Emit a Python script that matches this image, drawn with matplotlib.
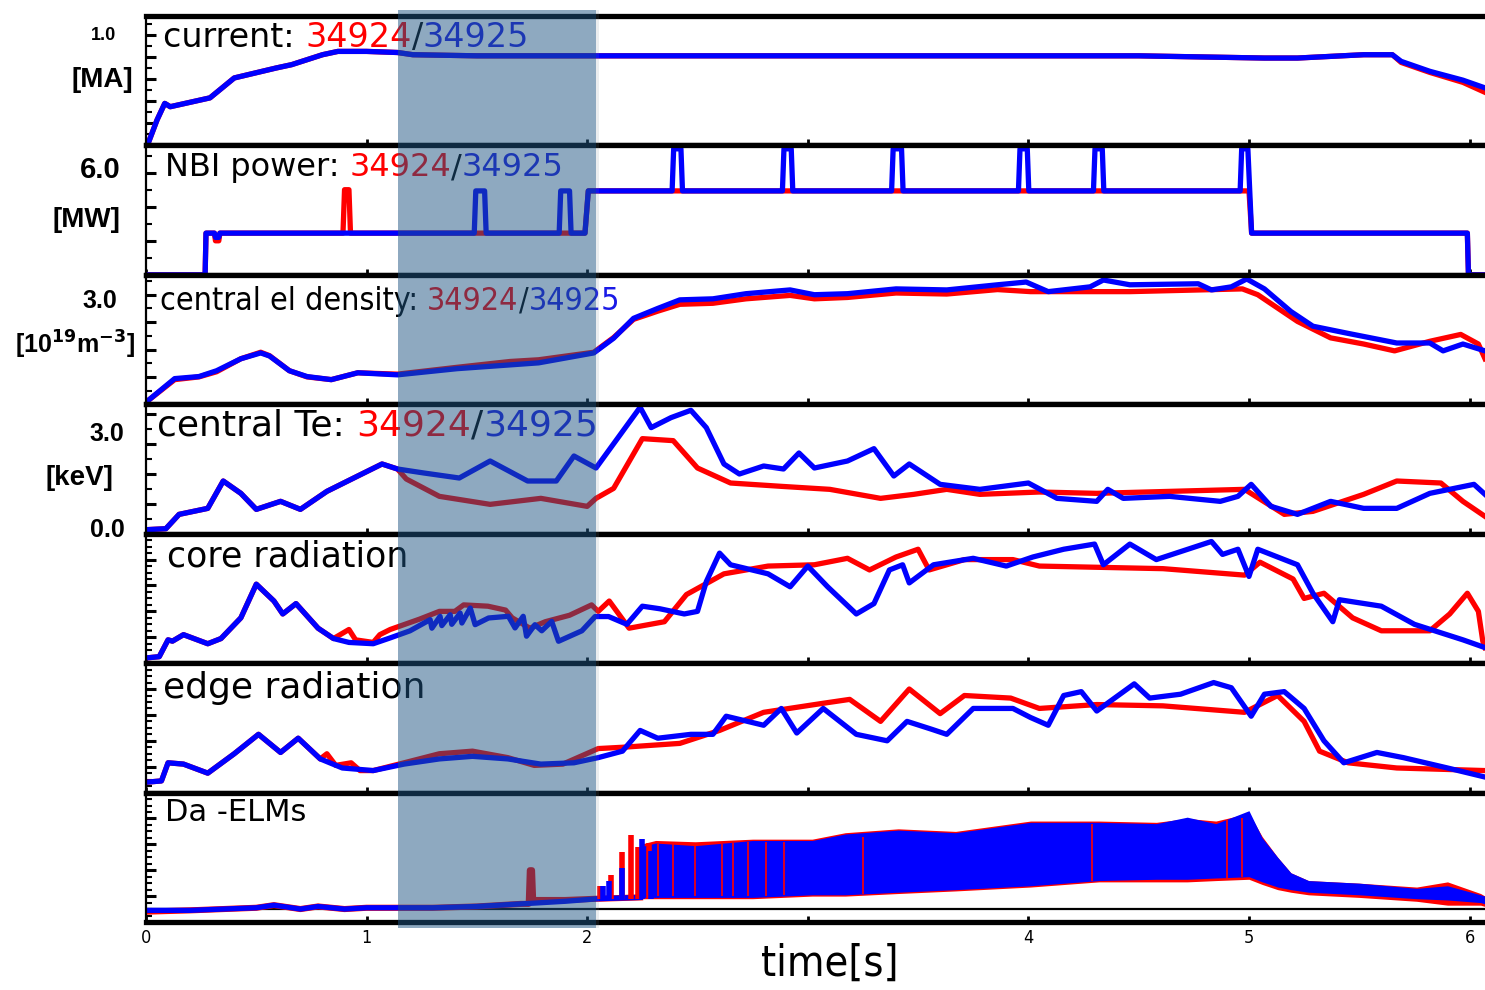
import numpy as np
import matplotlib
matplotlib.use("Agg")
import matplotlib.pyplot as plt
from matplotlib.ticker import MultipleLocator
import matplotlib.transforms as mtrans
from matplotlib.patches import Rectangle

# ---------------- data ----------------
XMAX = 6.07
xtick_vals = [0, 1, 2, 3, 4, 5, 6]
xtick_labels = ["0", "1", "2", "", "4", "5", "6"]

# plasma current [MA]
cur_t = [0, 0.01, 0.05, 0.085, 0.11, 0.20, 0.29, 0.40, 0.59, 0.66, 0.80, 0.87, 1.0, 1.14,
         1.21, 1.5, 2.0, 2.5, 3.0, 3.5, 4.0, 4.5, 5.07, 5.22, 5.52, 5.65, 5.69, 5.82, 5.97, 6.07]
cur_blue = [0, 0.02, 0.23, 0.38, 0.35, 0.39, 0.43, 0.61, 0.70, 0.73, 0.82, 0.85, 0.85, 0.84,
            0.82, 0.81, 0.81, 0.81, 0.81, 0.81, 0.81, 0.81, 0.79, 0.79, 0.82, 0.82, 0.76, 0.67, 0.59, 0.52]
cur_red = [0, 0.02, 0.23, 0.38, 0.35, 0.39, 0.43, 0.61, 0.70, 0.73, 0.82, 0.85, 0.85, 0.84,
           0.82, 0.81, 0.81, 0.81, 0.81, 0.81, 0.81, 0.81, 0.79, 0.79, 0.82, 0.82, 0.75, 0.66, 0.57, 0.48]

# NBI power [MW] as segments (start, end, level)
nbi_red_start = [0.00, 0.272, 0.315, 0.335, 0.900, 0.927, 2.005, 5.012, 5.995]
nbi_red_end = [0.268, 0.310, 0.330, 0.893, 0.920, 1.990, 5.000, 5.990, 6.07]
nbi_red_level = [0, 2.45, 2.0, 2.45, 5.0, 2.45, 4.93, 2.45, 0]
nbi_blue_start = [0.00, 0.272, 0.315, 0.335, 1.495, 1.542, 1.880, 1.927, 2.005, 2.392, 2.432,
                  2.892, 2.932, 3.387, 3.432, 3.962, 4.002, 4.302, 4.342, 4.967, 5.012, 5.995]
nbi_blue_end = [0.268, 0.310, 0.330, 1.488, 1.535, 1.873, 1.920, 1.990, 2.385, 2.425, 2.885,
                2.925, 3.380, 3.425, 3.955, 3.995, 4.295, 4.335, 4.960, 4.995, 5.990, 6.07]
nbi_blue_level = [0, 2.45, 2.2, 2.45, 4.93, 2.45, 4.93, 2.45, 4.93, 7.4, 4.93,
                  7.4, 4.93, 7.4, 4.93, 7.4, 4.93, 7.4, 4.93, 7.4, 2.45, 0]

# central electron density [1e19 m^-3]
den_t_blue = [0, 0.13, 0.24, 0.32, 0.43, 0.52, 0.56, 0.65, 0.73, 0.84, 0.96, 1.14, 1.41, 1.78,
              2.03, 2.12, 2.21, 2.32, 2.42, 2.57, 2.72, 2.92, 3.03, 3.18, 3.40, 3.63, 3.86, 3.99,
              4.09, 4.28, 4.34, 4.46, 4.77, 4.83, 4.92, 4.99, 5.07, 5.19, 5.29, 5.45, 5.67, 5.82,
              5.88, 5.97, 6.07]
den_blue = [0.06, 0.75, 0.81, 0.98, 1.33, 1.50, 1.41, 0.98, 0.81, 0.72, 0.92, 0.86, 1.04, 1.21,
            1.50, 1.93, 2.51, 2.80, 3.05, 3.08, 3.23, 3.34, 3.20, 3.23, 3.37, 3.34, 3.49, 3.57,
            3.29, 3.43, 3.63, 3.49, 3.52, 3.34, 3.43, 3.66, 3.37, 2.71, 2.28, 2.07, 1.79, 1.79,
            1.56, 1.76, 1.56]
den_t_red = [0, 0.13, 0.24, 0.32, 0.43, 0.52, 0.56, 0.65, 0.73, 0.84, 0.96, 1.14, 1.41, 1.65,
             1.78, 2.03, 2.12, 2.21, 2.32, 2.42, 2.57, 2.72, 2.92, 3.03, 3.18, 3.40, 3.63, 3.86,
             4.01, 4.46, 4.97, 5.04, 5.22, 5.37, 5.52, 5.66, 5.82, 5.96, 6.04, 6.07]
den_red = [0.06, 0.72, 0.80, 0.95, 1.33, 1.52, 1.42, 0.98, 0.80, 0.72, 0.92, 0.88, 1.08, 1.25,
           1.30, 1.52, 1.95, 2.48, 2.72, 2.92, 2.95, 3.08, 3.18, 3.08, 3.12, 3.25, 3.22, 3.35,
           3.29, 3.29, 3.37, 3.20, 2.42, 1.94, 1.76, 1.56, 1.84, 2.04, 1.76, 1.33]

# central electron temperature [keV]
te_t_blue = [0, 0.09, 0.15, 0.28, 0.35, 0.43, 0.50, 0.61, 0.70, 0.82, 0.96, 1.07, 1.14,
             1.26, 1.42, 1.56, 1.73, 1.86, 1.94, 2.04, 2.24, 2.29, 2.38, 2.47, 2.54, 2.62, 2.69,
             2.80, 2.89, 2.96, 3.03, 3.18, 3.30, 3.39, 3.46, 3.60, 3.78, 4.00, 4.13, 4.31, 4.36,
             4.43, 4.64, 4.87, 4.95, 5.01, 5.10, 5.22, 5.37, 5.52, 5.67, 5.82, 6.02, 6.07]
te_blue = [0.12, 0.15, 0.58, 0.76, 1.58, 1.21, 0.73, 0.97, 0.73, 1.27, 1.73, 2.09, 1.94,
           1.82, 1.67, 2.18, 1.58, 1.58, 2.33, 1.97, 3.79, 3.18, 3.48, 3.70, 3.18, 2.09, 1.79,
           2.03, 1.94, 2.42, 1.97, 2.18, 2.55, 1.73, 2.09, 1.48, 1.33, 1.52, 1.06, 0.97, 1.33,
           1.06, 1.12, 0.97, 1.12, 1.48, 0.82, 0.58, 0.97, 0.76, 0.76, 1.21, 1.48, 1.18]
te_t_red = [0, 0.09, 0.15, 0.28, 0.35, 0.43, 0.50, 0.61, 0.70, 0.82, 0.96, 1.07, 1.14,
            1.18, 1.33, 1.56, 1.79, 2.00, 2.04, 2.12, 2.25, 2.39, 2.50, 2.65, 2.88, 3.10, 3.33,
            3.48, 3.63, 3.78, 4.05, 4.31, 4.98, 5.16, 5.29, 5.52, 5.67, 5.87, 5.97, 6.07]
te_red = [0.12, 0.15, 0.58, 0.76, 1.58, 1.21, 0.73, 0.97, 0.73, 1.27, 1.73, 2.09, 1.94,
          1.64, 1.12, 0.88, 1.06, 0.82, 1.06, 1.36, 2.85, 2.79, 1.97, 1.52, 1.42, 1.33, 1.06,
          1.18, 1.33, 1.18, 1.25, 1.21, 1.33, 0.58, 0.67, 1.18, 1.58, 1.52, 0.97, 0.52]

# core radiation [a.u.]
core_t_red = [0.0, 0.06, 0.10, 0.12, 0.17, 0.28, 0.34, 0.43, 0.50, 0.58, 0.62, 0.68, 0.78, 0.85,
              0.92, 0.95, 1.03, 1.06, 1.107, 1.24, 1.33, 1.40, 1.44, 1.55, 1.63, 1.66, 1.74, 1.81,
              1.92, 2.02, 2.05, 2.10, 2.19, 2.35, 2.45, 2.62, 2.82, 3.03, 3.18, 3.28, 3.40, 3.50,
              3.55, 3.71, 3.93, 4.05, 4.61, 4.98, 5.05, 5.20, 5.25, 5.34, 5.47, 5.60, 5.82, 5.91,
              5.99, 6.04, 6.06, 6.07]
core_red = [0.04, 0.05, 0.18, 0.17, 0.22, 0.15, 0.19, 0.35, 0.61, 0.48, 0.38, 0.46, 0.27, 0.19,
            0.26, 0.18, 0.16, 0.22, 0.26, 0.34, 0.40, 0.40, 0.45, 0.44, 0.41, 0.35, 0.27, 0.32,
            0.37, 0.45, 0.40, 0.48, 0.27, 0.32, 0.53, 0.69, 0.75, 0.76, 0.81, 0.72, 0.82, 0.88,
            0.72, 0.80, 0.80, 0.75, 0.73, 0.68, 0.78, 0.65, 0.50, 0.54, 0.35, 0.25, 0.25, 0.38,
            0.54, 0.40, 0.17, 0.12]
core_t_blue = [0.0, 0.06, 0.10, 0.12, 0.17, 0.28, 0.34, 0.43, 0.50, 0.58, 0.62, 0.68, 0.78, 0.85,
               0.92, 1.03, 1.107, 1.197, 1.288, 1.296, 1.333, 1.341, 1.379, 1.386, 1.424, 1.432,
               1.470, 1.492, 1.553, 1.643, 1.673, 1.710, 1.725, 1.763, 1.794, 1.839, 1.870, 1.976,
               2.036, 2.097, 2.18, 2.25, 2.33, 2.44, 2.50, 2.54, 2.60, 2.65, 2.82, 2.92, 3.00,
               3.09, 3.22, 3.30, 3.37, 3.43, 3.46, 3.57, 3.75, 3.90, 4.02, 4.16, 4.30, 4.34, 4.46,
               4.58, 4.83, 4.88, 4.95, 5.00, 5.04, 5.22, 5.29, 5.38, 5.41, 5.60, 5.75, 5.97, 6.07]
core_blue = [0.04, 0.05, 0.18, 0.17, 0.22, 0.15, 0.19, 0.35, 0.61, 0.48, 0.38, 0.46, 0.27, 0.19,
             0.16, 0.15, 0.195, 0.25, 0.336, 0.27, 0.362, 0.29, 0.374, 0.30, 0.387, 0.31,
             0.426, 0.297, 0.349, 0.362, 0.272, 0.362, 0.208, 0.297, 0.25, 0.323, 0.169, 0.25,
             0.36, 0.36, 0.30, 0.44, 0.42, 0.38, 0.40, 0.63, 0.85, 0.76, 0.69, 0.59, 0.75,
             0.59, 0.38, 0.46, 0.72, 0.76, 0.62, 0.76, 0.81, 0.75, 0.82, 0.88, 0.92, 0.76, 0.92,
             0.80, 0.94, 0.84, 0.88, 0.67, 0.88, 0.76, 0.54, 0.32, 0.49, 0.44, 0.30, 0.18, 0.12]

# edge radiation [a.u.]
edge_t_red = [0, 0.07, 0.10, 0.17, 0.28, 0.40, 0.51, 0.61, 0.69, 0.79,
              0.82, 0.86, 0.93, 0.97, 1.03, 1.17, 1.33, 1.48, 1.64, 1.76, 1.89, 2.05, 2.16, 2.42,
              2.60, 2.80, 3.07, 3.19, 3.33, 3.46, 3.60, 3.71, 3.92, 4.05, 4.31, 4.61, 4.98, 5.13,
              5.25, 5.32, 5.45, 5.67, 6.07]
edge_red = [0.08, 0.09, 0.23, 0.22, 0.15, 0.30, 0.45, 0.31, 0.42, 0.26,
            0.30, 0.21, 0.23, 0.17, 0.17, 0.23, 0.30, 0.32, 0.27, 0.21, 0.22, 0.34, 0.35, 0.38,
            0.48, 0.62, 0.69, 0.72, 0.55, 0.80, 0.61, 0.75, 0.73, 0.65, 0.68, 0.67, 0.62, 0.75,
            0.55, 0.32, 0.23, 0.19, 0.17]
edge_t_blue = [0, 0.07, 0.10, 0.17, 0.28, 0.40, 0.51, 0.61, 0.69, 0.79,
               0.89, 1.03, 1.17, 1.33, 1.48, 1.64, 1.79, 1.94, 2.05, 2.16, 2.24, 2.32, 2.47, 2.57,
               2.63, 2.80, 2.88, 2.95, 3.07, 3.22, 3.36, 3.45, 3.56, 3.63, 3.75, 3.93, 4.01, 4.09,
               4.16, 4.24, 4.31, 4.48, 4.55, 4.69, 4.84, 4.92, 5.01, 5.07, 5.16, 5.25, 5.34, 5.43,
               5.58, 5.70, 5.90, 6.07]
edge_blue = [0.08, 0.09, 0.23, 0.22, 0.15, 0.30, 0.45, 0.31, 0.42, 0.26,
             0.19, 0.17, 0.22, 0.26, 0.28, 0.26, 0.22, 0.23, 0.27, 0.32, 0.48, 0.42, 0.45, 0.45,
             0.59, 0.52, 0.65, 0.46, 0.65, 0.45, 0.40, 0.55, 0.49, 0.45, 0.65, 0.65, 0.58, 0.52,
             0.75, 0.78, 0.63, 0.84, 0.73, 0.76, 0.85, 0.81, 0.59, 0.76, 0.78, 0.65, 0.40, 0.23,
             0.31, 0.27, 0.19, 0.12]

# D-alpha / ELMs [a.u.]
da_pre_t_blue = [0, 0.2, 0.5, 0.58, 0.7, 0.78, 0.9, 1.0, 1.3, 1.5, 1.7, 1.9, 2.05, 2.24]
da_pre_blue = [0.09, 0.09, 0.11, 0.13, 0.10, 0.12, 0.10, 0.11, 0.11, 0.12, 0.14, 0.16, 0.18, 0.19]
da_pre_t_red = [0, 0.2, 0.5, 0.58, 0.7, 0.78, 0.9, 1.0, 1.3, 1.5, 1.7, 1.735, 1.74, 1.75,
                1.755, 1.9, 2.05, 2.24]
da_pre_red = [0.08, 0.09, 0.11, 0.13, 0.10, 0.12, 0.10, 0.11, 0.11, 0.12, 0.14, 0.14, 0.40, 0.40,
              0.17, 0.17, 0.18, 0.19]
elm_early_t_red = [2.06, 2.11, 2.16, 2.20, 2.23, 2.28]
elm_early_h_red = [0.28, 0.36, 0.54, 0.67, 0.58, 0.61]
elm_early_t_blue = [2.07, 2.10, 2.16, 2.25, 2.29]
elm_early_h_blue = [0.28, 0.32, 0.42, 0.64, 0.55]
elm_t = [2.24, 2.31, 2.49, 2.75, 3.02, 3.17, 3.41, 3.67, 4.01, 4.32, 4.58, 4.72, 4.85, 5.00,
         5.06, 5.13, 5.19, 5.27, 5.50, 5.76, 5.90, 6.05, 6.07]
elm_up_blue = [0.58, 0.61, 0.59, 0.63, 0.63, 0.68, 0.71, 0.69, 0.77, 0.77, 0.76, 0.81, 0.76, 0.86,
               0.65, 0.50, 0.38, 0.32, 0.30, 0.26, 0.28, 0.21, 0.20]
elm_lo_blue = [0.19, 0.19, 0.19, 0.19, 0.21, 0.21, 0.23, 0.25, 0.28, 0.32, 0.33, 0.33, 0.34, 0.35,
               0.31, 0.27, 0.25, 0.23, 0.21, 0.18, 0.17, 0.15, 0.14]
elm_up_red = [0.60, 0.63, 0.62, 0.64, 0.64, 0.69, 0.72, 0.70, 0.78, 0.78, 0.77, 0.80, 0.78, 0.84,
              0.66, 0.50, 0.38, 0.32, 0.30, 0.27, 0.31, 0.22, 0.20]
elm_lo_red = [0.18, 0.18, 0.18, 0.18, 0.20, 0.20, 0.22, 0.24, 0.27, 0.31, 0.31, 0.31, 0.32, 0.33,
              0.29, 0.25, 0.23, 0.21, 0.19, 0.16, 0.13, 0.13, 0.12]
elm_streak_t_red = [2.32, 2.39, 2.49, 2.61, 2.66, 2.73, 2.81, 2.89, 3.25, 4.29, 4.90, 4.97]
elm_streak_top_red = [0.60, 0.60, 0.59, 0.60, 0.61, 0.62, 0.62, 0.62, 0.66, 0.76, 0.79, 0.80]
elm_streak_bot_red = [0.20, 0.20, 0.20, 0.20, 0.20, 0.20, 0.20, 0.21, 0.22, 0.32, 0.34, 0.35]

# shaded time window [s]
shade_t0, shade_t1 = 1.143, 2.04

# ---------------- style ----------------
RED = "#ff0000"
BLUE = "#0000ff"
TBLUE = "#1a1ae6"
LW = 3.8
W, H = 1485, 990


def seg_series(starts, ends, levels):
    t, v = [], []
    for a, b, lev in zip(starts, ends, levels):
        t += [a, b]
        v += [lev, lev]
    return t, v


def colored_title(ax, x, y, parts, size, stretch="normal"):
    s, c = parts[0]
    t = ax.text(x, y, s, color=c, transform=ax.transAxes, fontsize=size,
                va="baseline", ha="left", fontstretch=stretch, zorder=6)
    for s, c in parts[1:]:
        t = ax.annotate(s, xy=(1, 0), xycoords=t, xytext=(0, 0), textcoords="offset points",
                        va="bottom", ha="left", color=c, fontsize=size,
                        fontstretch=stretch, zorder=6)


fig = plt.figure(figsize=(W / 100, H / 100), dpi=100)
left = 146 / W
top = 1 - 16 / H
bottom = 1 - 922 / H
ph = (top - bottom) / 7

axes = []
for i in range(7):
    ax = fig.add_axes([left, top - (i + 1) * ph, 1.0 - left, ph])
    ax.set_xlim(0, XMAX)
    for side in ("top", "bottom"):
        ax.spines[side].set_linewidth(3.8)
    ax.spines["left"].set_linewidth(1.6)
    ax.spines["right"].set_visible(False)
    ax.set_xticks(xtick_vals)
    ax.tick_params(axis="x", direction="in", length=4, width=2, top=False,
                   labelbottom=False)
    ax.tick_params(axis="y", which="major", direction="in", length=7, width=2.2,
                   labelleft=False, right=False)
    ax.tick_params(axis="y", which="minor", direction="in", length=4, width=1.5, right=False)
    axes.append(ax)

ax1, ax2, ax3, ax4, ax5, ax6, ax7 = axes

# panel 1: current
ax1.plot(cur_t, cur_red, color=RED, lw=LW, solid_joinstyle="round")
ax1.plot(cur_t, cur_blue, color=BLUE, lw=LW, solid_joinstyle="round")
ax1.set_ylim(0, 1.17)
ax1.yaxis.set_major_locator(MultipleLocator(0.2))
ax1.yaxis.set_minor_locator(MultipleLocator(0.1))
colored_title(ax1, 0.0127, 0.76, [("current: ", "black"), ("34924", RED), ("/", "black"),
                                  ("34925", TBLUE)], 24)

# panel 2: NBI
tr, vr = seg_series(nbi_red_start, nbi_red_end, nbi_red_level)
tb, vb = seg_series(nbi_blue_start, nbi_blue_end, nbi_blue_level)
ax2.plot(tr, vr, color=RED, lw=LW)
ax2.plot(tb, vb, color=BLUE, lw=LW)
ax2.set_ylim(0, 7.6)
ax2.yaxis.set_major_locator(MultipleLocator(2))
ax2.yaxis.set_minor_locator(MultipleLocator(1))
colored_title(ax2, 0.014, 0.76, [("NBI power: ", "black"), ("34924", RED), ("/", "black"),
                                 ("34925", TBLUE)], 23)

# panel 3: density
ax3.plot(den_t_red, den_red, color=RED, lw=LW)
ax3.plot(den_t_blue, den_blue, color=BLUE, lw=LW)
ax3.set_ylim(0, 3.78)
ax3.yaxis.set_major_locator(MultipleLocator(0.8))
ax3.yaxis.set_minor_locator(MultipleLocator(0.4))
colored_title(ax3, 0.0105, 0.73, [("central el density: ", "black"), ("34924", RED),
                                  ("/", "black"), ("34925", TBLUE)], 23, stretch="condensed")

# panel 4: Te
ax4.plot(te_t_red, te_red, color=RED, lw=LW)
ax4.plot(te_t_blue, te_blue, color=BLUE, lw=LW)
ax4.set_ylim(0, 3.88)
ax4.yaxis.set_major_locator(MultipleLocator(0.9))
ax4.yaxis.set_minor_locator(MultipleLocator(0.45))
colored_title(ax4, 0.008, 0.76, [("central Te: ", "black"), ("34924", RED), ("/", "black"),
                                 ("34925", TBLUE)], 26)

# panel 5: core radiation
ax5.plot(core_t_red, core_red, color=RED, lw=LW)
ax5.plot(core_t_blue, core_blue, color=BLUE, lw=LW)
ax5.set_ylim(0, 1)
colored_title(ax5, 0.0157, 0.745, [("core radiation", "black")], 25)

# panel 6: edge radiation
ax6.plot(edge_t_red, edge_red, color=RED, lw=LW)
ax6.plot(edge_t_blue, edge_blue, color=BLUE, lw=LW)
ax6.set_ylim(0, 1)
colored_title(ax6, 0.0127, 0.73, [("edge radiation", "black")], 26)

for ax in (ax5, ax6, ax7):
    ax.yaxis.set_major_locator(MultipleLocator(0.2))
    ax.yaxis.set_minor_locator(MultipleLocator(0.05))

# panel 7: D-alpha / ELMs
ax7.set_ylim(0, 1)
ax7.axhline(0.1, color="black", lw=1.6, zorder=1)
ax7.plot(da_pre_t_red, da_pre_red, color=RED, lw=LW + 0.6)
ax7.plot(da_pre_t_blue, da_pre_blue, color=BLUE, lw=LW)
ax7.fill_between(elm_t, elm_lo_red, elm_up_red, color=RED, lw=0)
ax7.vlines(elm_early_t_red, [0.18] * len(elm_early_t_red), elm_early_h_red, color=RED, lw=4)
ax7.fill_between(elm_t, elm_lo_blue, elm_up_blue, color=BLUE, lw=0)
ax7.vlines(elm_early_t_blue, [0.18] * len(elm_early_t_blue), elm_early_h_blue, color=BLUE, lw=4)
ax7.vlines(elm_streak_t_red, elm_streak_bot_red, elm_streak_top_red, color=RED, lw=1.2)
colored_title(ax7, 0.014, 0.78, [("Da -ELMs", "black")], 22)

ax7.tick_params(axis="x", labelbottom=True, labelsize=13, pad=5)
ax7.set_xticklabels(xtick_labels, fontstretch="condensed")

# left-hand value / unit labels
lab = dict(ha="center", va="center", fontweight="bold", family="Liberation Sans")
fig.text(103 / W, 1 - 36 / H, "1.0", fontsize=13, **lab)
fig.text(102 / W, 1 - 80 / H, "[MA]", fontsize=20, **lab)
fig.text(100 / W, 1 - 170 / H, "6.0", fontsize=21, **lab)
fig.text(86 / W, 1 - 220 / H, "[MW]", fontsize=20, **lab)
fig.text(100 / W, 1 - 301 / H, "3.0", fontsize=18, **lab)
fig.text(75 / W, 1 - 345 / H, r"[10$^{\mathbf{19}}$m$^{\mathbf{-3}}$]", fontsize=18, **lab)
fig.text(107 / W, 1 - 434 / H, "3.0", fontsize=18, **lab)
fig.text(79 / W, 1 - 478 / H, "[keV]", fontsize=20, **lab)
fig.text(107 / W, 1 - 530 / H, "0.0", fontsize=18, **lab)

fig.text(830 / W, 1 - 964 / H, "time[s]", ha="center", va="center", fontsize=31,
         fontstretch="condensed")

# shaded time window spanning all panels
tr_bl = mtrans.blended_transform_factory(ax7.transData, fig.transFigure)
y0 = 1 - 928 / H
y1 = 1 - 10 / H
fig.add_artist(Rectangle((shade_t1, y0), 0.015, y1 - y0, transform=tr_bl,
                         facecolor="#7a8a96", alpha=0.15, lw=0, zorder=9))
fig.add_artist(Rectangle((shade_t0, y0), shade_t1 - shade_t0, y1 - y0, transform=tr_bl,
                         facecolor="#1e5582", alpha=0.5, lw=0, zorder=10))

fig.savefig("out.png", dpi=100)
